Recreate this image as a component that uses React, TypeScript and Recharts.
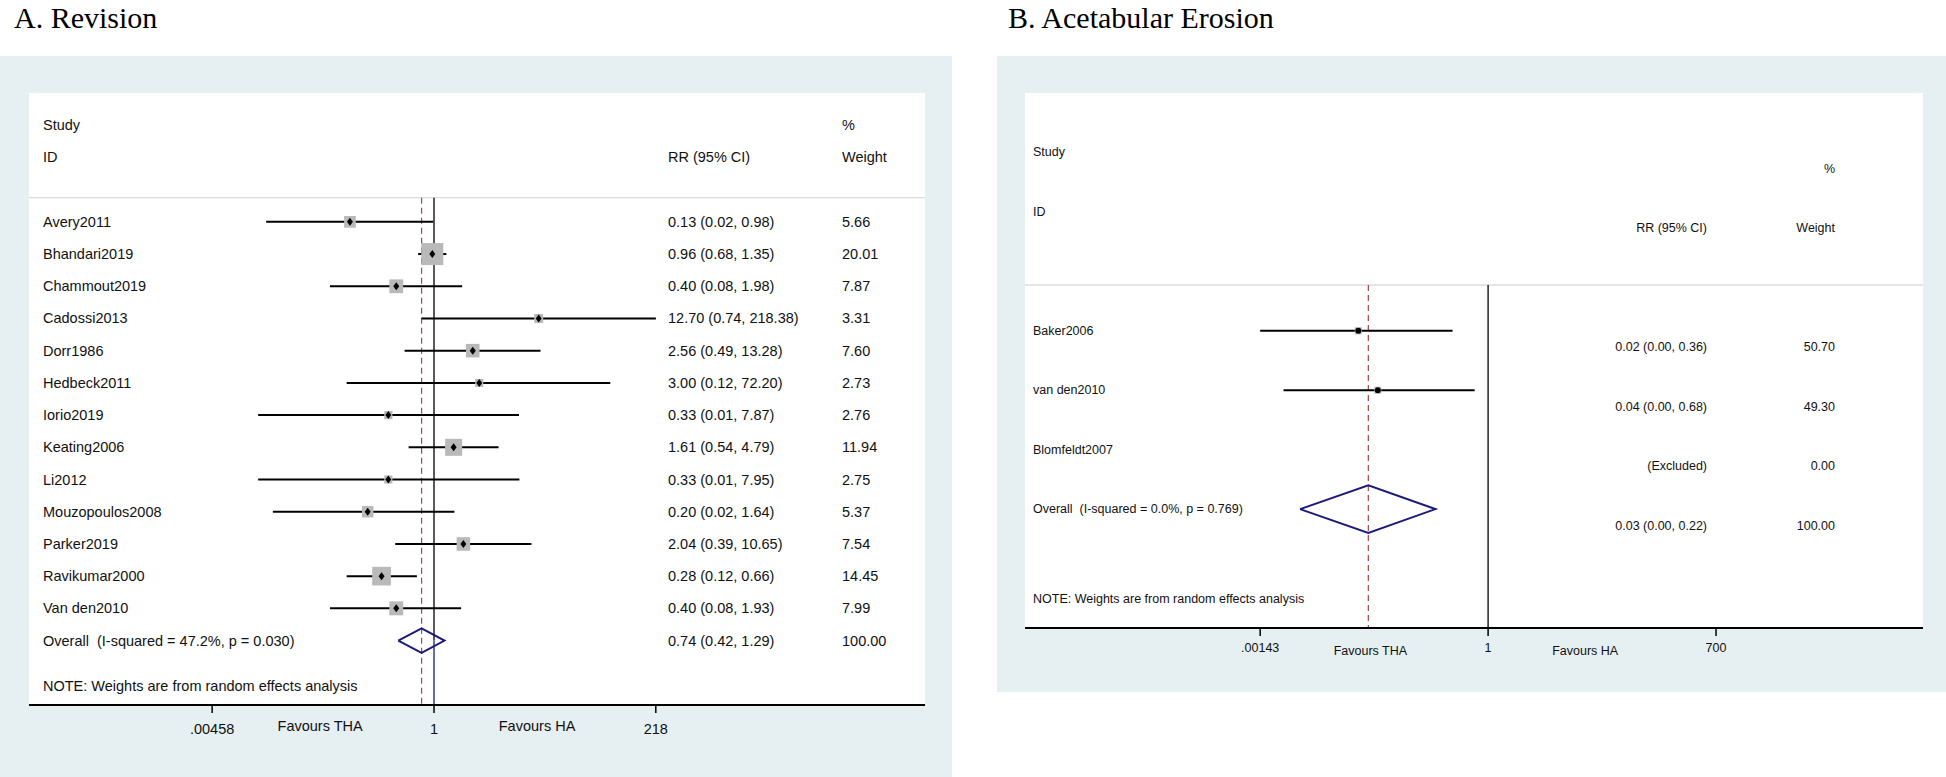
import { ComposedChart, Scatter, XAxis, YAxis, ErrorBar, ReferenceLine } from 'recharts'

const SANS = '"Liberation Sans", Arial, Helvetica, sans-serif'
const SERIF = '"Liberation Serif", "Times New Roman", serif'
const PANEL_BG = '#e6eff2'
const NAVY = '#1c1c78'
const RED = '#b0473f'
const BOX = '#b9b9b9'

// A. Revision
const studiesA = ['Avery2011', 'Bhandari2019', 'Chammout2019', 'Cadossi2013', 'Dorr1986', 'Hedbeck2011', 'Iorio2019', 'Keating2006', 'Li2012', 'Mouzopoulos2008', 'Parker2019', 'Ravikumar2000', 'Van den2010']
const rrA = [0.13, 0.96, 0.4, 12.7, 2.56, 3.0, 0.33, 1.61, 0.33, 0.2, 2.04, 0.28, 0.4]
const lowA = [0.017, 0.68, 0.08, 0.74, 0.49, 0.12, 0.014, 0.54, 0.014, 0.02, 0.39, 0.12, 0.08]
const highA = [0.98, 1.35, 1.98, 218.38, 13.28, 72.2, 7.87, 4.79, 7.95, 1.64, 10.65, 0.66, 1.93]
const weightA = [5.66, 20.01, 7.87, 3.31, 7.6, 2.73, 2.76, 11.94, 2.75, 5.37, 7.54, 14.45, 7.99]
const overallA = [0.74, 0.42, 1.29] // est, low, high
const overallLabelA = 'Overall\u00a0\u00a0(I-squared = 47.2%, p = 0.030)'
const tickValsA = [0.00458, 0.063, 1, 12.2, 218]
const tickTextA = ['.00458', 'Favours THA', '1', 'Favours HA', '218']
const tickMarkA = [true, false, true, false, true]

// B. Acetabular Erosion
const studiesB = ['Baker2006', 'van den2010', 'Blomfeldt2007']
const rrB: (number | null)[] = [0.024, 0.042, null]
const lowB: (number | null)[] = [0.00143, 0.0028, null]
const highB: (number | null)[] = [0.36, 0.68, null]
const weightB = [50.7, 49.3, 0]
const overallB = [0.032, 0.0045, 0.22]
const overallLabelB = 'Overall\u00a0\u00a0(I-squared = 0.0%, p = 0.769)'
const tickValsB = [0.00143, 0.034, 1, 16.3, 700]
const tickTextB = ['.00143', 'Favours THA', '1', 'Favours HA', '700']
const tickMarkB = [true, false, true, false, true]

const NOTE = 'NOTE: Weights are from random effects analysis'

type TextRow = { row: number; label: string; ci: string; weight: string }
type Point = { row: number; rr: number; ci: [number, number]; weight: number }

const fmtCI = (rr: number, lo: number, hi: number) =>
  `${rr.toFixed(2)} (${lo.toFixed(2)}, ${hi.toFixed(2)})`

function studyRows(studies: string[], rr: (number | null)[], low: (number | null)[], high: (number | null)[], weight: number[]): TextRow[] {
  return studies.map((s, i) => ({
    row: i,
    label: s,
    ci: rr[i] == null ? '(Excluded)' : fmtCI(rr[i] as number, low[i] as number, high[i] as number),
    weight: weight[i].toFixed(2),
  }))
}

function studyPoints(rr: (number | null)[], low: (number | null)[], high: (number | null)[], weight: number[]): Point[] {
  return rr.flatMap((v, i) =>
    v == null ? [] : [{ row: i, rr: v, ci: [v - (low[i] as number), (high[i] as number) - v] as [number, number], weight: weight[i] }]
  )
}

function diamondPoints(overall: number[], row: number, half: number) {
  const [est, lo, hi] = overall
  return [
    { rr: lo, row },
    { rr: est, row: row - half },
    { rr: hi, row },
    { rr: est, row: row + half },
    { rr: lo, row },
  ]
}

const headerRows: TextRow[] = [
  { row: -3, label: 'Study', ci: '', weight: '%' },
  { row: -2, label: 'ID', ci: 'RR (95% CI)', weight: 'Weight' },
]

const rowsA: TextRow[] = [
  ...headerRows,
  ...studyRows(studiesA, rrA, lowA, highA, weightA),
  { row: 13, label: overallLabelA, ci: fmtCI(overallA[0], overallA[1], overallA[2]), weight: '100.00' },
  { row: 14.4, label: NOTE, ci: '', weight: '' },
]

const rowsB: TextRow[] = [
  ...headerRows,
  ...studyRows(studiesB, rrB, lowB, highB, weightB),
  { row: 3, label: overallLabelB, ci: fmtCI(overallB[0], overallB[1], overallB[2]), weight: '100.00' },
  { row: 4.51, label: NOTE, ci: '', weight: '' },
]

type PanelProps = {
  left: number
  top: number
  width: number
  height: number
  margin: { top: number; right: number; bottom: number; left: number }
  xDomain: [number, number]
  yDomain: [number, number]
  rows: TextRow[]
  points: Point[]
  diamond: { rr: number; row: number }[]
  overallEst: number
  overallRow: number
  sepRow: number
  tickVals: number[]
  tickText: string[]
  tickMark: boolean[]
  tickDy: [number, number]
  fontSize: number
  cols: { label: number; ci: number; weight: number; anchor: 'start' | 'end'; valueDy: number }
  boxScale: number
  marker: 'diamond' | 'dot'
  navyBelow: boolean
}

function ForestPanel(p: PanelProps) {
  const yMax = p.yDomain[1]
  const axisH = 40
  const yAxisW = 1

  const rowTick = (t: any) => {
    const r = p.rows.find(d => Math.abs(d.row - t.payload.value) < 1e-6)
    if (!r) return <g />
    return (
      <g fontFamily={SANS} fontSize={p.fontSize} fill="#111">
        <text x={p.cols.label} y={t.y} dominantBaseline="central">{r.label}</text>
        {r.ci && (
          <text x={p.cols.ci} y={t.y + p.cols.valueDy} textAnchor={p.cols.anchor} dominantBaseline="central">{r.ci}</text>
        )}
        {r.weight && (
          <text x={p.cols.weight} y={t.y + p.cols.valueDy} textAnchor={p.cols.anchor} dominantBaseline="central">{r.weight}</text>
        )}
      </g>
    )
  }

  const axisTick = (t: any) => {
    const i = p.tickVals.findIndex(v => Math.abs(v - t.payload.value) < v * 1e-6)
    if (i < 0) return <g />
    const mark = p.tickMark[i]
    return (
      <g>
        {mark && <line x1={t.x} x2={t.x} y1={t.y} y2={t.y + 8} stroke="#000" strokeWidth={1.5} />}
        <text
          x={t.x}
          y={t.y + (mark ? p.tickDy[0] : p.tickDy[1])}
          textAnchor="middle"
          dominantBaseline="central"
          fontFamily={SANS}
          fontSize={p.fontSize}
          fill="#111"
        >
          {p.tickText[i]}
        </text>
      </g>
    )
  }

  const boxShape = (s: any) => {
    const side = p.boxScale * Math.sqrt(s.payload.weight)
    return <rect x={s.cx - side / 2} y={s.cy - side / 2} width={side} height={side} fill={BOX} />
  }

  const markerShape = (s: any) =>
    p.marker === 'diamond' ? (
      <polygon points={`${s.cx},${s.cy - 4} ${s.cx + 3},${s.cy} ${s.cx},${s.cy + 4} ${s.cx - 3},${s.cy}`} fill="#000" />
    ) : (
      <circle cx={s.cx} cy={s.cy} r={3} fill="#000" />
    )

  const plotLeft = p.margin.left + yAxisW

  return (
    <div style={{ position: 'absolute', left: p.left, top: p.top, width: p.width, height: p.height, background: PANEL_BG }}>
      <div
        style={{
          position: 'absolute',
          left: plotLeft,
          top: p.margin.top,
          width: p.width - plotLeft - p.margin.right,
          height: p.height - p.margin.top - p.margin.bottom - axisH,
          background: '#fff',
        }}
      />
      <ComposedChart width={p.width} height={p.height} margin={p.margin} style={{ position: 'absolute', left: 0, top: 0 }}>
        <XAxis
          dataKey="rr"
          type="number"
          scale="log"
          domain={p.xDomain}
          allowDataOverflow
          ticks={p.tickVals}
          interval={0}
          tick={axisTick}
          tickLine={false}
          tickSize={0}
          tickMargin={0}
          height={axisH}
          axisLine={{ stroke: '#000', strokeWidth: 2 }}
        />
        <YAxis
          dataKey="row"
          type="number"
          domain={p.yDomain}
          reversed
          allowDataOverflow
          ticks={p.rows.map(r => r.row)}
          interval={0}
          tick={rowTick}
          width={yAxisW}
          axisLine={false}
          tickLine={false}
          tickSize={0}
          tickMargin={0}
        />
        <ReferenceLine y={p.sepRow} stroke="#dcdcdc" strokeWidth={1.3} />
        <ReferenceLine
          segment={[{ x: 1, y: p.sepRow }, { x: 1, y: p.navyBelow ? p.overallRow : yMax }]}
          stroke="#000"
          strokeWidth={1.3}
        />
        {p.navyBelow ? (
          <ReferenceLine segment={[{ x: 1, y: p.overallRow }, { x: 1, y: yMax }]} stroke={NAVY} strokeWidth={1.3} />
        ) : (
          <ReferenceLine segment={[{ x: p.overallEst, y: yMax }, { x: 1, y: yMax }]} stroke={NAVY} strokeWidth={2} />
        )}
        <ReferenceLine
          segment={[{ x: p.overallEst, y: p.sepRow }, { x: p.overallEst, y: yMax }]}
          stroke={RED}
          strokeWidth={1.2}
          strokeDasharray="6 4"
        />
        <Scatter data={p.points} isAnimationActive={false} shape={boxShape} />
        <Scatter data={p.points} isAnimationActive={false} shape={markerShape}>
          <ErrorBar dataKey="ci" direction="x" width={0} stroke="#000" strokeWidth={2} isAnimationActive={false} />
        </Scatter>
        <Scatter
          data={p.diamond}
          isAnimationActive={false}
          line={{ stroke: NAVY, strokeWidth: 2 }}
          lineType="joint"
          shape={() => <g />}
        />
      </ComposedChart>
    </div>
  )
}

export default function App() {
  return (
    <div style={{ position: 'absolute', left: 0, top: 0, width: 1946, height: 777, background: '#fff', overflow: 'hidden' }}>
      <div style={{ position: 'absolute', left: 14, top: 2, fontFamily: SERIF, fontSize: 30, lineHeight: '32px', color: '#000' }}>
        A. Revision
      </div>
      <div style={{ position: 'absolute', left: 1008, top: 2, fontFamily: SERIF, fontSize: 30, lineHeight: '32px', color: '#000' }}>
        B. Acetabular Erosion
      </div>

      <ForestPanel
        left={0}
        top={56}
        width={952}
        height={721}
        margin={{ top: 37, right: 27, bottom: 32, left: 28 }}
        xDomain={[5.37e-5, 1.502e5]}
        yDomain={[-4, 15]}
        rows={rowsA}
        points={studyPoints(rrA, lowA, highA, weightA)}
        diamond={diamondPoints(overallA, 13, 0.38)}
        overallEst={overallA[0]}
        overallRow={13}
        sepRow={-0.75}
        tickVals={tickValsA}
        tickText={tickTextA}
        tickMark={tickMarkA}
        tickDy={[24, 21]}
        fontSize={14.5}
        cols={{ label: 43, ci: 668, weight: 842, anchor: 'start', valueDy: 0 }}
        boxScale={4.92}
        marker="diamond"
        navyBelow
      />

      <ForestPanel
        left={997}
        top={56}
        width={949}
        height={636}
        margin={{ top: 37, right: 23, bottom: 24, left: 27 }}
        xDomain={[1.66e-6, 2.68e5]}
        yDomain={[-4, 5]}
        rows={rowsB}
        points={studyPoints(rrB, lowB, highB, weightB)}
        diamond={diamondPoints(overallB, 3, 0.4)}
        overallEst={overallB[0]}
        overallRow={3}
        sepRow={-0.77}
        tickVals={tickValsB}
        tickText={tickTextB}
        tickMark={tickMarkB}
        tickDy={[20, 23]}
        fontSize={12.5}
        cols={{ label: 36, ci: 710, weight: 838, anchor: 'end', valueDy: 16.5 }}
        boxScale={1}
        marker="dot"
        navyBelow={false}
      />
    </div>
  )
}
